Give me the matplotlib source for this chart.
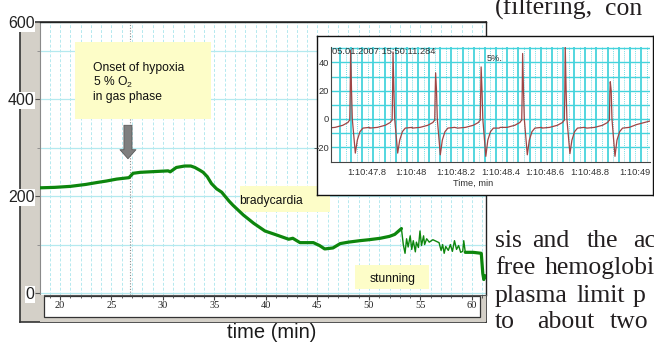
"""
Hypoxia recording: slow trend with an ECG inset, cropped from a page
"""

import numpy as np
import matplotlib
matplotlib.use('Agg')
import matplotlib.pyplot as plt
from matplotlib.patches import Rectangle

# ==================== Data ====================
# main trace, time in min
TREND_MIN = [18.0, 19.5, 21.0, 22.5, 23.6, 24.5, 25.5, 26.7, 27.1, 27.8, 28.7,
             29.6, 30.5, 30.7, 31.3, 32.1, 32.7, 33.1, 33.6, 33.9, 34.3, 34.7,
             35.2, 35.7, 36.4, 36.8, 37.8, 38.8, 39.9, 41.0, 42.2, 42.6, 43.3,
             44.6, 45.2, 45.7, 46.5, 47.2, 48.0, 49.1, 50.0, 51.1, 52.0, 52.5, 53.15]
TREND_VAL = [217, 218, 220, 224, 228, 231, 235, 238, 247, 249, 250,
             251, 252, 250, 259, 262, 262, 259, 253, 249, 240, 226,
             215, 208, 190, 181, 161, 144, 128, 120, 111, 113, 104,
             104, 98, 91, 93, 102, 105, 108, 110, 113, 117, 121, 133]

# noisy part after the peak at ~53 min (thin line)
NOISE_MIN = [53.15, 53.33, 53.5, 53.65, 53.8, 54.0, 54.15, 54.3, 54.5, 54.6,
             54.8, 54.95, 55.1, 55.3, 55.4, 55.6, 55.85, 56.2, 56.6, 56.8,
             57.0, 57.15, 57.3, 57.45, 57.7, 57.9, 58.1, 58.3, 58.5, 58.7,
             58.9, 59.1, 59.2, 59.35]
NOISE_VAL = [133, 100, 82, 112, 95, 118, 90, 108, 85, 105,
             94, 128, 98, 118, 100, 112, 105, 110, 106, 104,
             88, 100, 82, 96, 88, 100, 86, 108, 90, 98,
             84, 86, 108, 84]

TAIL_MIN = [59.35, 60.1, 60.9, 61.05, 61.15, 61.25]
TAIL_VAL = [84, 84, 82, 40, 28, 36]

ONSET_MIN = 26.8
Y_TOP = 559
Y_TICKS = [0, 200, 400, Y_TOP]
Y_LABELS = ['0', '200', '400', '600']
Y_MINOR = [100, 300, 500]
X_TICKS = [20, 25, 30, 35, 40, 45, 50, 55, 60]

# inset ECG, time in s after 1:10:00
BEAT_PEAK_S = [47.728, 47.918, 48.109, 48.313, 48.499, 48.690, 48.892]
BEAT_PEAK_MV = [48.6, 47.4, 32.6, 36.8, 46.3, 52.0, 26.3]
BEAT_TROUGH_MV = [-24.2, -24.2, -25.4, -26.5, -25.4, -24.6, -26.5]
# one beat around its R peak: nan marks the peak / trough slots
BEAT_DT = [-0.105, -0.07, -0.035, -0.012, -0.008, -0.004, -0.002, 0.0,
           0.004, 0.0075, 0.021, 0.03, 0.042, 0.055, 0.085]
BEAT_MV = [-6.5, -6.0, -4.5, -2.5, -1.5, -1.0, 18.0, np.nan,
           20.0, 0.0, np.nan, -15.0, -9.0, -6.5, -6.0]
TAIL_S = [49.01, 49.07]
TAIL_MV = [-4.0, -1.5]

INSET_XTICKS = [47.8, 48.0, 48.2, 48.4, 48.6, 48.8, 49.0]
INSET_XLABELS = ['1:10:47.8', '1:10:48', '1:10:48.2', '1:10:48.4',
                 '1:10:48.6', '1:10:48.8', '1:10:49']
INSET_YTICKS = [40, 20, 0, -20]

# ==================== Style ====================
W, H = 654, 343
GREY = '#d4d0c8'
YELLOW = '#fdfdc8'
GREEN = '#0d860d'
LIGHT_CYAN = '#b4e9ef'
CYAN = '#45d3dc'
SERIF = 'Liberation Serif'

plt.rcParams.update({'font.family': 'Liberation Sans', 'font.size': 9})


def px_rect(x0, y0, x1, y1):
    return [x0 / W, 1 - y1 / H, (x1 - x0) / W, (y1 - y0) / H]


def fpx(x, y):
    return x / W, 1 - y / H


fig = plt.figure(figsize=(W / 100, H / 100), dpi=100)

# ---- window frame with grey border ----
frame = fig.add_axes(px_rect(20, 22, 486, 322), zorder=0)
frame.set_facecolor(GREY)
frame.set_xticks([])
frame.set_yticks([])
for s in frame.spines.values():
    s.set_color('#333333')
    s.set_linewidth(1.2)

# ---- main plot ----
ax = fig.add_axes(px_rect(40, 22, 486, 295), zorder=1)
ax.set_facecolor('white')
ax.set_xlim(18.06, 61.36)
ax.set_ylim(-4, Y_TOP)
ax.set_xticks(np.arange(19, 62, 1))
ax.tick_params(axis='x', length=0, labelbottom=False)
ax.grid(True, axis='x', color=LIGHT_CYAN, lw=0.7, ls=(0, (3, 2)))
ax.set_yticks(Y_TICKS, labels=Y_LABELS)
ax.set_yticks(Y_MINOR, minor=True)
ax.yaxis.grid(True, which='both', color=LIGHT_CYAN, lw=0.9)
ax.tick_params(axis='y', which='major', length=3.5, color='#555555', pad=0.5,
               labelsize=11.5, labelcolor='#222222')
ax.tick_params(axis='y', which='minor', length=2, color='#888888')
for lbl in ax.get_yticklabels():
    lbl.set_bbox(dict(facecolor='white', edgecolor='none', pad=0.6))
ax.set_axisbelow(True)
ax.spines['bottom'].set_visible(False)
ax.spines['left'].set_color('#8a8a8a')
for side in ['top', 'right']:
    ax.spines[side].set_color('#222222')
    ax.spines[side].set_linewidth(1.0)

ax.axvline(ONSET_MIN, color='#8c8c8c', lw=0.8, ls=(0, (1, 1.5)), zorder=1)

ax.plot(TREND_MIN, TREND_VAL, color=GREEN, lw=2.3,
        solid_capstyle='round', solid_joinstyle='round', zorder=3)
ax.plot(NOISE_MIN, NOISE_VAL, color=GREEN, lw=1.0, zorder=3)
ax.plot(TAIL_MIN, TAIL_VAL, color=GREEN, lw=2.3,
        solid_capstyle='round', solid_joinstyle='round', zorder=3)


def ax_frac(x, y):
    return (x - 40) / 446, (295 - y) / 273


def note_box(x0, y0, x1, y1):
    ax.add_patch(Rectangle(ax_frac(x0, y1), (x1 - x0) / 446, (y1 - y0) / 273,
                           transform=ax.transAxes, facecolor=YELLOW,
                           edgecolor='none', zorder=2))


note_box(75, 42, 211, 119)
for line, yb in [('Onset of hypoxia', 71), (r'5 % $\mathregular{O_2}$', 85.7),
                 ('in gas phase', 100)]:
    ax.text(*ax_frac(92.7, yb), line, transform=ax.transAxes, fontsize=8.7,
            va='baseline', color='#111111', zorder=4)

note_box(240, 186, 330, 212)
ax.text(*ax_frac(239.3, 204), 'bradycardia', transform=ax.transAxes,
        fontsize=8.7, va='baseline', color='#111111', zorder=4)

note_box(355, 265, 429, 289)
ax.text(*ax_frac(369.3, 281.7), 'stunning', transform=ax.transAxes,
        fontsize=8.7, va='baseline', color='#111111', zorder=4)

ax.annotate('', xy=(ONSET_MIN - 0.2, 277), xytext=(ONSET_MIN - 0.2, 346),
            arrowprops=dict(arrowstyle='simple,head_length=0.65,head_width=1.15,tail_width=0.58',
                            fc='#7f7f7f', ec='#5a5a5a', lw=0.6, mutation_scale=10,
                            shrinkA=0, shrinkB=0), zorder=4)

# ---- time strip under the plot ----
strip = fig.add_axes(px_rect(40, 295, 486, 322), zorder=1)
strip.set_facecolor(GREY)
strip.set_xlim(ax.get_xlim())
strip.set_ylim(0, 1)
strip.add_patch(Rectangle(((44 - 40) / 446, (322 - 317) / 27), (480 - 44) / 446,
                          (317 - 296) / 27, transform=strip.transAxes,
                          facecolor='white', edgecolor='#333333', lw=0.9))
for side in ['left', 'right', 'bottom']:
    strip.spines[side].set_visible(False)
strip.spines['top'].set_color('#555555')
strip.spines['top'].set_linewidth(0.8)
strip.spines['top'].set_bounds(18.45, 61.36)
strip.set_yticks([])
strip.set_xticks(X_TICKS)
strip.set_xticks(np.arange(19, 62, 1), minor=True)
strip.tick_params(axis='x', which='both', top=True, bottom=False, labeltop=True,
                  labelbottom=False, direction='in', color='#444444')
strip.tick_params(axis='x', which='major', length=3.5, pad=-10.5, labelsize=7.5,
                  labelfontfamily=SERIF, labelcolor='#222222')
strip.tick_params(axis='x', which='minor', length=2.5)

fig.text(*fpx(271.5, 338), 'time (min)', ha='center', va='baseline',
         fontsize=14.5, color='#1a1a1a')

# ---- ECG inset ----
iframe = fig.add_axes(px_rect(317, 36, 653, 195), zorder=3)
iframe.set_facecolor('white')
iframe.set_xticks([])
iframe.set_yticks([])
for s in iframe.spines.values():
    s.set_color('#111111')
    s.set_linewidth(1.0)

ins = fig.add_axes(px_rect(331, 47, 650, 162), zorder=4)
ins.set_facecolor('none')
ins.set_xlim(47.64, 49.07)
ins.set_ylim(-30.5, 50.9)
for g in np.arange(47.68, 49.07, 0.05):
    ins.axvline(g, color=CYAN, lw=1.3, zorder=0)
    ins.axvline(g + 0.025, color=CYAN, lw=0.6, ls=(0, (1, 1.5)), zorder=0)
for h in range(-20, 51, 10):
    ins.axhline(h, color=CYAN, lw=1.0, zorder=0)

ecg_t, ecg_v = [], []
for tp, pk, tr in zip(BEAT_PEAK_S, BEAT_PEAK_MV, BEAT_TROUGH_MV):
    vals = list(BEAT_MV)
    vals[7] = pk
    vals[10] = tr
    ecg_t += [tp + d for d in BEAT_DT]
    ecg_v += vals
ecg_t += TAIL_S
ecg_v += TAIL_MV
order = np.argsort(ecg_t, kind='stable')
ins.plot(np.array(ecg_t)[order], np.array(ecg_v)[order], color='#a04545', lw=0.9, zorder=2)

for side in ['top', 'right']:
    ins.spines[side].set_visible(False)
for side in ['left', 'bottom']:
    ins.spines[side].set_color('#444444')
    ins.spines[side].set_linewidth(0.8)
ins.set_xticks(INSET_XTICKS, labels=INSET_XLABELS)
ins.set_yticks(INSET_YTICKS)
ins.tick_params(length=0, labelsize=6.7, labelcolor='#333333')
ins.tick_params(axis='x', pad=4)
ins.tick_params(axis='y', pad=1.5)

ins.text(*fpx(331.7, 46.5), '05.01.2007 15:50:11.284', transform=fig.transFigure,
         fontsize=6.7, va='top', color='#333333')
ins.text(*fpx(486.7, 58.5), '5%.', transform=fig.transFigure,
         fontsize=6.7, va='center', color='#333333')
ins.text(*fpx(473.3, 183.5), 'Time, min', transform=fig.transFigure,
         fontsize=6.7, ha='center', va='center', color='#333333')

# ---- page text around the figure ----
BODY = [('(filtering,', 495, 15), ('con', 605, 15),
        ('sis', 495, 246.7), ('and', 532, 246.7), ('the', 587, 246.7), ('ac', 633, 246.7),
        ('free', 495, 274.3), ('hemoglobi', 545, 274.3),
        ('plasma', 495, 301.7), ('limit', 577, 301.7), ('p', 633, 301.7),
        ('to', 495, 328), ('about', 537, 328), ('two', 610, 328)]
for word, x, y in BODY:
    fig.text(*fpx(x, y), word, fontfamily=SERIF, fontsize=18.5, va='baseline',
             color='#231f20', zorder=5)

fig.savefig('out.png', dpi=100, facecolor='white')
